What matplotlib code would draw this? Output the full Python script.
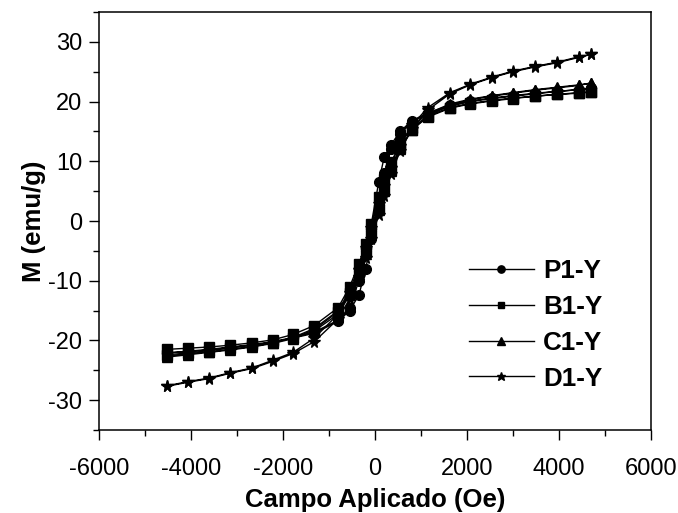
import matplotlib
matplotlib.use('Agg')
import matplotlib.pyplot as plt
from matplotlib.ticker import MultipleLocator

plt.rcParams['font.family'] = ['Liberation Sans', 'DejaVu Sans']
plt.rcParams['axes.unicode_minus'] = False

# applied field grid (Oe), descending branch; ascending branch uses it reversed
H_down = [4700, 4430, 3960, 3480, 3000, 2540, 2070, 1630, 1150, 800, 550, 350, 200, 80,
          -80, -200, -350, -550, -800, -1320, -1780, -2220, -2670, -3150, -3610, -4065, -4530]
H_up = H_down[::-1]

# magnetization (emu/g)
P1_down = [22.2, 22.0, 21.7, 21.4, 21.0, 20.6, 20.1, 19.4, 18.1, 16.8, 15.0, 12.8, 10.7, 6.5,
           -0.5, -4.5, -10.0, -14.6, -16.6, -18.6, -19.5, -20.2, -20.7, -21.1, -21.5, -21.8, -22.1]
P1_up = [-22.1, -21.9, -21.6, -21.2, -20.8, -20.3, -19.6, -18.8, -16.8, -15.0, -12.4, -8.0, -3.0,
         3.5, 8.0, 12.0, 14.6, 16.6, 17.9, 19.2, 20.0, 20.5, 20.9, 21.3, 21.7, 22.0, 22.2]

B1_down = [21.6, 21.5, 21.2, 20.9, 20.6, 20.2, 19.7, 19.0, 17.6, 15.6, 13.0, 9.8, 7.0, 4.0,
           -0.5, -3.8, -7.2, -11.0, -14.5, -17.5, -19.0, -19.9, -20.4, -20.8, -21.1, -21.3, -21.5]
B1_up = [-22.4, -22.1, -21.7, -21.3, -20.8, -20.3, -19.6, -18.2, -15.2, -12.0, -8.5, -5.2, -2.0,
         2.0, 5.2, 8.6, 12.2, 15.3, 17.4, 18.9, 19.6, 20.1, 20.5, 20.9, 21.2, 21.4, 21.6]

C1_down = [23.1, 22.8, 22.4, 22.0, 21.5, 21.0, 20.4, 19.6, 18.0, 15.8, 13.0, 9.6, 6.8, 3.6,
           -0.8, -4.2, -7.6, -11.6, -15.0, -18.0, -19.5, -20.4, -21.0, -21.5, -21.9, -22.2, -22.6]
C1_up = [-22.8, -22.4, -22.0, -21.6, -21.1, -20.5, -19.7, -18.4, -15.6, -12.4, -8.8, -5.6, -2.2,
         1.8, 5.0, 8.4, 12.0, 15.2, 17.6, 19.4, 20.3, 20.9, 21.4, 21.9, 22.3, 22.7, 23.1]

D1_down = [27.9, 27.5, 26.6, 25.9, 25.1, 24.1, 22.9, 21.5, 19.0, 16.0, 12.6, 8.8, 5.8, 2.8,
           -1.2, -4.6, -8.2, -12.0, -15.6, -19.6, -22.0, -23.3, -24.6, -25.4, -26.3, -26.9, -27.6]
D1_up = [-27.7, -27.0, -26.4, -25.5, -24.7, -23.5, -22.2, -20.2, -16.4, -13.0, -9.4, -6.2, -3.0,
         1.0, 4.2, 7.8, 11.8, 15.4, 18.6, 21.3, 22.8, 24.0, 25.0, 25.8, 26.5, 27.4, 27.9]

labels = ['P1-Y', 'B1-Y', 'C1-Y', 'D1-Y']
markers = ['o', 's', '^', '*']
msizes = [7, 6.5, 7.5, 8.5]
loops = [(P1_down, P1_up), (B1_down, B1_up), (C1_down, C1_up), (D1_down, D1_up)]

fig = plt.figure(figsize=(6.78, 5.13), dpi=100)
ax = fig.add_axes([99/678, 83/513, 552/678, 418/513])

for lab, mk, ms, (down, up) in zip(labels, markers, msizes, loops):
    ax.plot(H_down + H_up, down + up, color='black', lw=1, marker=mk, ms=ms,
            mfc='black', mec='black', label=lab)

ax.set_xlim(-6000, 6000)
ax.set_ylim(-35, 35)
ax.xaxis.set_major_locator(MultipleLocator(2000))
ax.xaxis.set_minor_locator(MultipleLocator(1000))
ax.yaxis.set_major_locator(MultipleLocator(10))
ax.yaxis.set_minor_locator(MultipleLocator(5))
ax.tick_params(which='both', direction='out', top=False, right=False, width=1,
               labelsize=17)
ax.tick_params(axis='y', pad=5)
ax.tick_params(axis='x', pad=13)
ax.tick_params(which='major', length=7)
ax.tick_params(which='minor', length=4)
for s in ax.spines.values():
    s.set_linewidth(1.1)

ax.set_xlabel('Campo Aplicado (Oe)', fontsize=18.5, fontweight='bold', labelpad=6)
ax.set_ylabel('M (emu/g)', fontsize=18.5, fontweight='bold', labelpad=2)

leg = ax.legend(loc='upper left', bbox_to_anchor=(0.67, 0.408), frameon=False,
                fontsize=18.7, handlelength=2.5, handletextpad=0.35,
                labelspacing=0.45, borderpad=0, borderaxespad=0, markerscale=0.75)
for t in leg.get_texts():
    t.set_fontweight('bold')

fig.savefig('out.png', dpi=100)
